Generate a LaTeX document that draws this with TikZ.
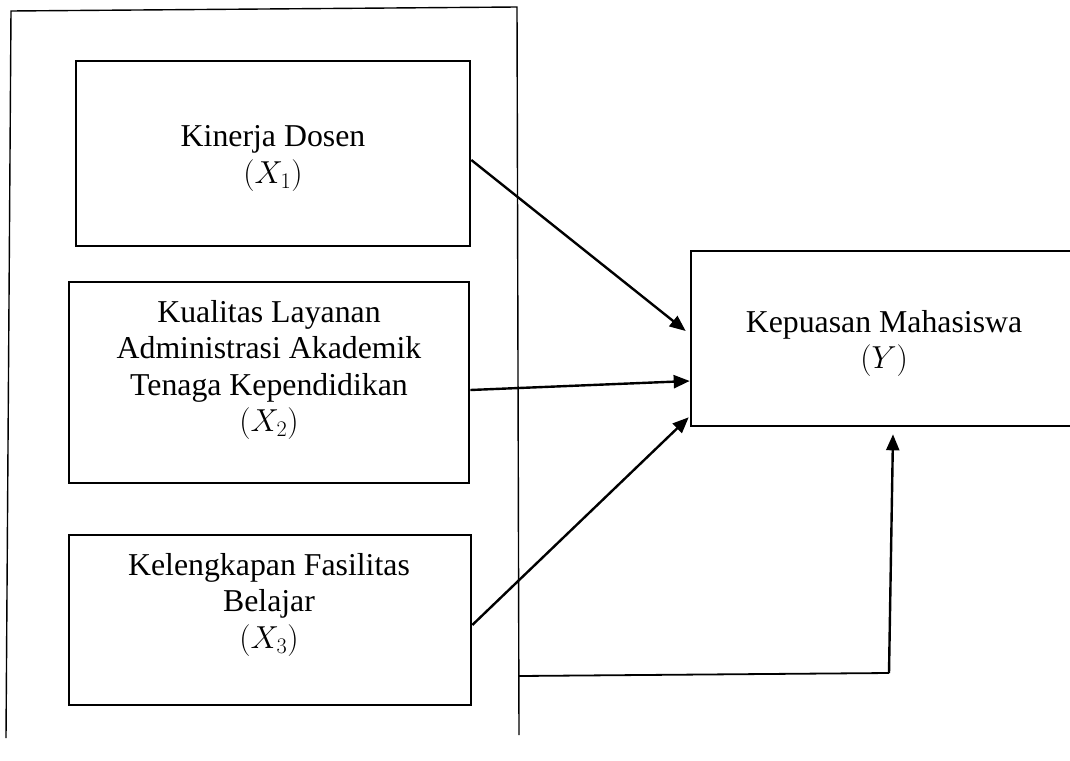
\RequirePackage{fix-cm}
\documentclass[tikz,border=0pt]{standalone}
\usepackage{fontspec}
\setmainfont{Liberation Serif}
\usetikzlibrary{arrows.meta,calc}
\begin{document}
\begin{tikzpicture}[x=1pt,y=-1pt,
  box/.style={draw, rectangle, line width=2.6pt, fill=white, inner sep=0pt},
  txt/.style={align=center, inner sep=0pt, font=\fontsize{31.8}{36.5}\selectfont},
  frameline/.style={line width=1.4pt},
  arr/.style={line width=2.4pt, -{Triangle[length=16pt,width=13pt]}}]
\useasboundingbox (0,0) rectangle (1070,760);
% outer frame
\coordinate (ftl) at (11,11);
\coordinate (ftr) at (517,7);
\coordinate (fbl) at (6,738);
\coordinate (fbr) at (519,735);
\coordinate (fb) at (519,676);
\coordinate (fc) at (889,673);
\draw[frameline] (fbl) -- (ftl) -- (ftr) -- (fbr);
% boxes
\node[box, minimum width=394pt, minimum height=185pt] (x1) at (273,153.5) {};
\node[box, minimum width=400pt, minimum height=201pt] (x2) at (269,382.5) {};
\node[box, minimum width=402pt, minimum height=170pt] (x3) at (270,620) {};
\node[box, minimum width=389pt, minimum height=175pt] (y) at (885.5,338.5) {};
% texts
\node[txt] (t1) at (273,158.5) {Kinerja Dosen\\$(X_1)$};
\node[txt] (t2) at (269,370) {Kualitas Layanan\\Administrasi Akademik\\Tenaga Kependidikan\\$(X_2)$};
\node[txt] (t3) at (269,604.8) {Kelengkapan Fasilitas\\Belajar\\$(X_3)$};
\node[txt] (ty) at (884,343.5) {Kepuasan Mahasiswa\\$(Y)$};
% connectors
\draw[arr] ($(x1.east)+(0,6.5)$) -- ($(y.west)+(-4,-7.5)$);
\draw[arr] ($(x2.east)+(0,7.5)$) -- ($(y.west)+(0,42.5)$);
\draw[arr] ($(x3.east)+(0,5)$) -- ($(y.south west)+(-1,-10)$);
\draw[line width=1.8pt] (fb) -- (fc);
\draw[arr] (fc) -- ($(y.south)+(7.5,7)$);
\end{tikzpicture}
\end{document}
